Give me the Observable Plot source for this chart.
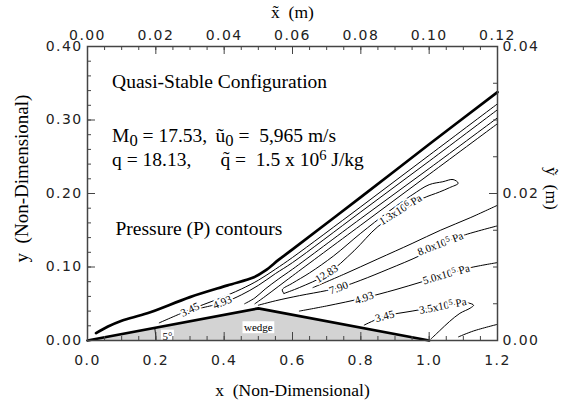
<!DOCTYPE html>
<html><head><meta charset="utf-8">
<script src="https://cdn.jsdelivr.net/npm/d3@7"></script>
<script src="https://cdn.jsdelivr.net/npm/@observablehq/plot@0.6"></script>
<style>
html,body{margin:0;padding:0;background:#fff;}
#chart svg{display:block;}
g[aria-label$="tick label"]{letter-spacing:1.4px;}
</style>
</head><body><div id="chart"></div>
<script>
// ---------- axis ticks and labels ----------
const xMajor = [0, 0.2, 0.4, 0.6, 0.8, 1.0, 1.2];
const xBottomLabels = ["0.0", "0.2", "0.4", "0.6", "0.8", "1.0", "1.2"];
const xTopLabels = ["0.00", "0.02", "0.04", "0.06", "0.08", "0.10", "0.12"];
const yMajor = [0, 0.1, 0.2, 0.3, 0.4];
const yLeftLabels = ["0.00", "0.10", "0.20", "0.30", "0.40"];
const yRightMajor = [0, 0.2, 0.4];
const yRightLabels = ["0.00", "0.02", "0.04"];
const xMinorStep = 0.05, yMinorStep = 0.02, yRightMinorStep = 0.05;

// ---------- wedge ----------
const wedgeX = [0, 0.5, 1.0];
const wedgeY = [0, 0.0437, 0];
const wedgeArcRadius = 0.20; // in x units

// ---------- shock and pressure contours (x, y non-dimensional) ----------
const shock = [[0.025,0.010],[0.06,0.019],[0.10,0.027],[0.175,0.037],[0.30,0.059],[0.41,0.075],[0.487,0.086],[0.52,0.095],[0.56,0.110],[0.60,0.124],[0.80,0.195],[1.00,0.267],[1.20,0.338]];
const thin1 = [[0.21,0.024],[0.30,0.042],[0.38,0.056],[0.45,0.070],[0.50,0.082],[0.55,0.097],[0.60,0.113],[0.80,0.182],[1.00,0.252],[1.20,0.322]];
const thin2 = [[0.33,0.044],[0.40,0.052],[0.45,0.062],[0.50,0.075],[0.55,0.091],[0.60,0.106],[0.80,0.175],[1.00,0.244],[1.20,0.314]];
const thin3 = [[0.46,0.050],[0.49,0.058],[0.52,0.070],[0.56,0.084],[0.60,0.097],[0.80,0.166],[1.00,0.234],[1.20,0.303]];
const thin4 = [[0.49,0.050],[0.52,0.060],[0.56,0.074],[0.60,0.088],[0.80,0.157],[1.00,0.226],[1.20,0.295]];
const p1283 = [[0.575,0.064],[0.62,0.072],[0.70,0.090],[0.78,0.122],[0.85,0.155],[0.92,0.176],[0.98,0.193],[1.03,0.202],[1.06,0.208],[1.085,0.214],[1.07,0.219],[1.04,0.216],[1.00,0.212],[0.95,0.198],[0.88,0.175],[0.80,0.146],[0.72,0.115],[0.65,0.092],[0.60,0.078],[0.57,0.069],[0.575,0.064]];
const pMid = [[0.66,0.072],[0.75,0.090],[0.85,0.111],[0.95,0.132],[1.033,0.150],[1.12,0.167],[1.20,0.184]];
const p790 = [[0.50,0.048],[0.55,0.054],[0.62,0.061],[0.70,0.068],[0.745,0.073],[0.80,0.082],[0.88,0.097],[0.975,0.116],[1.033,0.131],[1.10,0.143],[1.20,0.156]];
const p493 = [[0.62,0.040],[0.70,0.047],[0.81,0.058],[0.90,0.069],[0.98,0.080],[1.053,0.090],[1.12,0.099],[1.20,0.106]];
const p345 = [[0.81,0.021],[0.87,0.033],[0.95,0.040],[1.04,0.047],[1.09,0.050],[1.115,0.051],[1.13,0.048],[1.12,0.044],[1.09,0.037],[1.06,0.026],[1.03,0.013],[1.005,0.002]];
const pLow = [[1.086,0.005],[1.13,0.013],[1.20,0.022]];

// ---------- contour labels ----------
const labelText = ["3.45", "4.93", "12.83", "7.90", "4.93", "3.45", "1.3x10^6 Pa", "8.0x10^5 Pa", "5.0x10^5 Pa", "3.5x10^5 Pa"];
const labelX = [0.30, 0.395, 0.70, 0.735, 0.81, 0.87, 0.916, 1.033, 1.05, 1.04];
const labelY = [0.042, 0.052, 0.091, 0.0715, 0.058, 0.033, 0.178, 0.1315, 0.090, 0.047];
const labelRot = [-25, -22, -32, -20, -19, -15, -32, -21, -16, -11];

// ---------- annotations ----------
const noteText = ["Quasi-Stable Configuration", "M_0 = 17.53,", "\u0169_0 =\u00a0 5,965 m/s", "q = 18.13,", "q\u0303 =\u00a0 1.5 x 10^6 J/kg", "Pressure (P) contours"];
const noteX = [0.072, 0.072, 0.3746, 0.072, 0.389, 0.082];
const noteY = [0.3433, 0.270, 0.270, 0.238, 0.238, 0.144];

// ---------- build ----------
const W = 565, H = 400, mL = 87, mR = 68, mT = 46, mB = 60;
const fw = W - mL - mR, fh = H - mT - mB;
const serif = "Liberation Serif, Times New Roman, serif";
const sans = "DejaVu Sans, sans-serif";
const xMinor = d3.range(0, 1.2 + 1e-9, xMinorStep);
const yMinor = d3.range(0, 0.4 + 1e-9, yMinorStep);
const yRightMinor = d3.range(0, 0.4 + 1e-9, yRightMinorStep);
const lookup = (keys, vals) => d => vals[keys.findIndex(k => Math.abs(k - d) < 1e-9)];

const contourSets = {thin1, thin2, thin3, thin4, p1283, pMid, p790, p493, p345, pLow};
const contours = Object.entries(contourSets).flatMap(([id, pts]) => pts.map(([x, y]) => ({id, x, y})));
const shockData = shock.map(([x, y]) => ({x, y}));
const wedge = wedgeX.map((x, i) => ({x, y: wedgeY[i]}));
const labels = labelText.map((t, i) => ({t, x: labelX[i], y: labelY[i], r: labelRot[i]}));
const notes = noteText.map((t, i) => ({t, x: noteX[i], y: noteY[i]}));

// angle arc (circular in pixel space)
const kx = fw / 1.2, ky = fh / 0.4;
const faceAngle = Math.atan((wedgeY[1] / wedgeX[1]) * ky / kx);
const arc = d3.range(0, 1.0001, 0.1).map(t => ({
  x: wedgeArcRadius * Math.cos(t * faceAngle),
  y: wedgeArcRadius * (kx / ky) * Math.sin(t * faceAngle)
}));

const axisCol = "#444";
const textOpts = {label: null, tickSize: 0, fontSize: 14, fontFamily: sans, fill: "#222"};
const titleOpts = {text: d => d, fontFamily: serif, fill: "black", lineAnchor: "bottom", textAnchor: "middle"};
const fig = Plot.plot({
  width: W, height: H,
  marginLeft: mL, marginRight: mR, marginTop: mT, marginBottom: mB,
  x: {domain: [0, 1.2]},
  y: {domain: [0, 0.4]},
  style: {background: "white", color: "black"},
  marks: [
    Plot.areaY(wedge, {x: "x", y: "y", fill: "#d3d3d3"}),
    Plot.line(contours, {x: "x", y: "y", z: "id", stroke: "black", strokeWidth: 1, curve: "catmull-rom"}),
    Plot.line(shockData, {x: "x", y: "y", stroke: "black", strokeWidth: 2.7, curve: "catmull-rom"}),
    Plot.line(wedge, {x: "x", y: "y", stroke: "black", strokeWidth: 2.7}),
    Plot.line(arc, {x: "x", y: "y", stroke: "black", strokeWidth: 1}),
    Plot.text(labels, {x: "x", y: "y", text: "t", rotate: "r", fontSize: 11, fontFamily: serif, fill: "black", stroke: "white", strokeWidth: 4}),
    Plot.text(["wedge"], {x: wedgeX[1], y: 0.0174, text: d => d, fontSize: 11, fontFamily: serif, fill: "black"}),
    Plot.text(["5\u00b0"], {x: 0.234, y: 0.006, text: d => d, fontSize: 11, fontFamily: serif, fill: "black"}),
    Plot.text(notes, {x: "x", y: "y", text: "t", textAnchor: "start", lineAnchor: "bottom", fontSize: 19.5, fontFamily: serif, fill: "black"}),
    // inward ticks
    Plot.ruleX(xMinor, {stroke: axisCol, insetTop: fh - 4}),
    Plot.ruleX(xMajor, {stroke: axisCol, insetTop: fh - 8}),
    Plot.ruleX(xMinor, {stroke: axisCol, insetBottom: fh - 4}),
    Plot.ruleX(xMajor, {stroke: axisCol, insetBottom: fh - 8}),
    Plot.ruleY(yMinor, {stroke: axisCol, insetRight: fw - 4}),
    Plot.ruleY(yMajor, {stroke: axisCol, insetRight: fw - 8}),
    Plot.ruleY(yRightMinor, {stroke: axisCol, insetLeft: fw - 4}),
    Plot.ruleY(yRightMajor, {stroke: axisCol, insetLeft: fw - 8}),
    // tick labels
    Plot.axisX(xMajor, {...textOpts, anchor: "bottom", tickPadding: 15, tickFormat: lookup(xMajor, xBottomLabels)}),
    Plot.axisX(xMajor, {...textOpts, anchor: "top", tickPadding: 7, tickFormat: lookup(xMajor, xTopLabels)}),
    Plot.axisY(yMajor, {...textOpts, anchor: "left", tickPadding: 5, tickFormat: lookup(yMajor, yLeftLabels)}),
    Plot.axisY(yRightMajor, {...textOpts, anchor: "right", tickPadding: 5, tickFormat: lookup(yRightMajor, yRightLabels)}),
    Plot.frame({stroke: axisCol, strokeWidth: 1.5}),
    // axis titles
    Plot.text(["x\u0303\u00a0\u00a0(m)"], {...titleOpts, fontSize: 17.5, frameAnchor: "top", dy: -29}),
    Plot.text(["x\u00a0\u00a0(Non-Dimensional)"], {...titleOpts, fontSize: 17.5, frameAnchor: "bottom", dy: 55}),
    Plot.text(["y\u00a0\u00a0(Non-Dimensional)"], {...titleOpts, fontSize: 19, frameAnchor: "left", dx: -60, dy: -15, rotate: -90}),
    Plot.text(["\u1ef9\u00a0\u00a0(m)"], {...titleOpts, fontSize: 17.5, frameAnchor: "right", dx: 48, dy: -5, rotate: 90})
  ]
});
document.getElementById("chart").appendChild(fig);

// sub/superscripts: "_x" -> subscript, "^x" -> superscript
const NS = "http://www.w3.org/2000/svg";
fig.querySelectorAll("text").forEach(t => {
  const s = t.textContent;
  if (!/[_^]/.test(s) || t.querySelector("tspan")) return;
  t.textContent = "";
  s.split(/([_^].)/).forEach(p => {
    if (!p) return;
    const ts = document.createElementNS(NS, "tspan");
    if (p[0] === "_") { ts.textContent = p[1]; ts.setAttribute("baseline-shift", "-22%"); ts.setAttribute("font-size", "85%"); }
    else if (p[0] === "^") { ts.textContent = p[1]; ts.setAttribute("baseline-shift", "42%"); ts.setAttribute("font-size", "75%"); }
    else ts.textContent = p;
    t.appendChild(ts);
  });
});
// white boxes behind the wedge annotations
fig.querySelectorAll("text").forEach(t => {
  const s = t.textContent;
  if (s !== "wedge" && s !== "5\u00b0") return;
  const b = t.getBBox();
  const r = document.createElementNS(NS, "rect");
  r.setAttribute("x", b.x - 1.5); r.setAttribute("y", b.y);
  r.setAttribute("width", b.width + 3); r.setAttribute("height", b.height);
  r.setAttribute("fill", "white");
  if (t.getAttribute("transform")) r.setAttribute("transform", t.getAttribute("transform"));
  t.parentNode.insertBefore(r, t);
});
</script>
</body></html>
